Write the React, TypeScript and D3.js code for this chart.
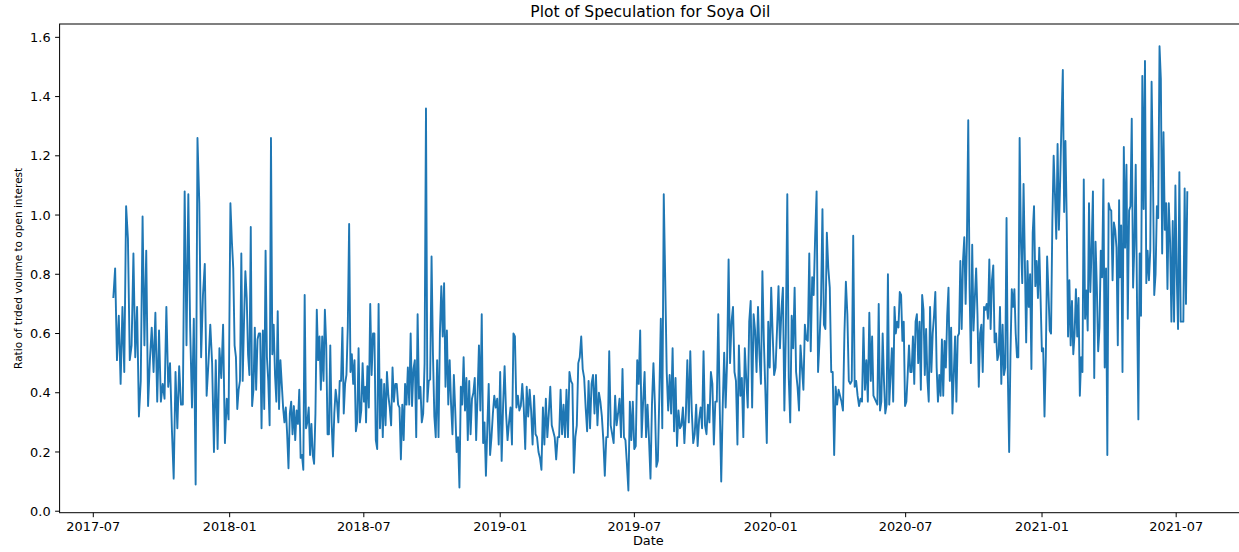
import React from 'react';
import * as d3 from 'd3';

const W = 1239;
const H = 552;

// Ratio of traded volume to open interest, grouped by period
const seg1 = [0.72, 0.82, 0.51, 0.66, 0.43, 0.69, 0.47, 1.03, 0.92, 0.51, 0.56, 0.87, 0.52, 0.69, 0.32, 0.44, 0.995, 0.56, 0.88, 0.355, 0.51, 0.62, 0.47, 0.67, 0.37, 0.61, 0.37, 0.43, 0.38, 0.69, 0.42, 0.50, 0.28, 0.11, 0.47, 0.28, 0.49, 0.36, 0.36, 1.08, 0.56, 1.07, 0.62, 0.35, 0.65, 0.09, 1.26, 1.04, 0.52, 0.73, 0.835, 0.39, 0.50, 0.63, 0.50, 0.20, 0.51, 0.21, 0.55, 0.45, 0.63, 0.23, 0.38, 0.31, 1.04];
const seg2 = [0.91, 0.82, 0.56, 0.52, 0.345, 0.41, 0.44, 0.87, 0.44, 0.64, 0.81, 0.72, 0.53, 0.46, 0.96, 0.355, 0.41, 0.62, 0.41, 0.58, 0.60, 0.60, 0.28, 0.61, 0.345, 0.88, 0.52, 0.44, 0.29, 1.26, 0.53, 0.63, 0.46, 0.37, 0.675, 0.345, 0.51, 0.43, 0.35, 0.30, 0.35, 0.26, 0.145, 0.33, 0.37, 0.26, 0.355, 0.24, 0.34, 0.295, 0.41, 0.18, 0.19, 0.14, 0.73, 0.28, 0.30, 0.35, 0.19, 0.295, 0.19, 0.16, 0.33, 0.68, 0.51, 0.59, 0.41, 0.59, 0.44, 0.68, 0.56, 0.26, 0.26, 0.56, 0.30, 0.185, 0.33, 0.41, 0.37, 0.30, 0.44, 0.44, 0.62, 0.33, 0.43, 0.46, 0.62, 0.97, 0.47, 0.53, 0.43, 0.51, 0.27, 0.30, 0.55, 0.30, 0.34, 0.50, 0.37, 0.42];
const seg3 = [0.30, 0.49, 0.35, 0.70, 0.46, 0.60, 0.60, 0.24, 0.21, 0.70, 0.28, 0.445, 0.25, 0.43, 0.29, 0.47, 0.39, 0.35, 0.29, 0.485, 0.37, 0.43, 0.43, 0.36, 0.35, 0.175, 0.36, 0.24, 0.43, 0.36, 0.485, 0.36, 0.60, 0.355, 0.48, 0.51, 0.25, 0.665, 0.38, 0.42, 0.30, 0.33, 0.50, 1.36, 0.37, 0.44, 0.445, 0.86, 0.53, 0.32, 0.25, 0.51, 0.25, 0.60, 0.76, 0.59, 0.77, 0.42, 0.61, 0.36, 0.51, 0.36, 0.26, 0.46, 0.34, 0.20, 0.25, 0.08, 0.42, 0.36, 0.52, 0.34, 0.45, 0.24, 0.44, 0.26, 0.38, 0.40, 0.45, 0.24, 0.39, 0.56, 0.34, 0.665, 0.23, 0.30, 0.12, 0.28, 0.43, 0.19, 0.25, 0.33, 0.39];
const seg4 = [0.35, 0.38, 0.225, 0.47, 0.17, 0.36, 0.49, 0.33, 0.24, 0.30, 0.35, 0.225, 0.60, 0.59, 0.35, 0.39, 0.34, 0.355, 0.43, 0.35, 0.21, 0.42, 0.32, 0.41, 0.34, 0.225, 0.39, 0.26, 0.25, 0.20, 0.18, 0.14, 0.35, 0.225, 0.38, 0.25, 0.33, 0.42, 0.29, 0.27, 0.25, 0.175, 0.25, 0.25, 0.41, 0.26, 0.36, 0.25, 0.41, 0.25, 0.47, 0.44, 0.43, 0.13, 0.25, 0.29, 0.50, 0.52, 0.59, 0.48, 0.45, 0.35, 0.27, 0.44, 0.28, 0.43, 0.46, 0.33, 0.46, 0.29, 0.40, 0.37, 0.32, 0.24, 0.12, 0.25, 0.25, 0.54, 0.29, 0.26, 0.23, 0.39, 0.29, 0.33, 0.38];
const seg5 = [0.25, 0.48, 0.25, 0.24, 0.16, 0.07, 0.37, 0.24, 0.37, 0.21, 0.22, 0.51, 0.43, 0.61, 0.25, 0.37, 0.47, 0.25, 0.36, 0.24, 0.11, 0.36, 0.50, 0.36, 0.15, 0.17, 0.39, 0.65, 0.28, 1.07, 0.78, 0.47, 0.34, 0.46, 0.33, 0.55, 0.27, 0.45, 0.22, 0.34, 0.28, 0.29, 0.35, 0.23, 0.33, 0.51, 0.30, 0.54, 0.34, 0.23, 0.26, 0.36, 0.22, 0.31, 0.35, 0.28, 0.54, 0.29, 0.26, 0.36, 0.30, 0.47, 0.43, 0.225, 0.37, 0.37, 0.665, 0.35, 0.10, 0.35, 0.535, 0.35, 0.51, 0.85, 0.50, 0.64, 0.69, 0.47, 0.44, 0.225, 0.56, 0.39, 0.45, 0.25, 0.55];
const seg6 = [0.445, 0.35, 0.64, 0.71, 0.35, 0.665, 0.61, 0.47, 0.69, 0.53, 0.43, 0.81, 0.575, 0.41, 0.23, 0.64, 0.485, 0.755, 0.60, 0.46, 0.485, 0.615, 0.76, 0.55, 0.68, 0.755, 0.34, 0.60, 1.07, 0.45, 0.30, 0.66, 0.55, 0.755, 0.47, 0.42, 0.34, 0.56, 0.485, 0.41, 0.63, 0.58, 0.575, 0.87, 0.54, 0.79, 0.73, 0.925, 1.08, 0.47, 0.575, 0.70, 1.02, 0.63, 0.615, 0.94, 0.82, 0.755, 0.47, 0.47, 0.19, 0.42, 0.36, 0.41, 0.39, 0.37, 0.34, 0.60, 0.775, 0.665, 0.44, 0.43, 0.44, 0.93, 0.42, 0.44, 0.39, 0.355, 0.38, 0.37, 0.62, 0.41, 0.51, 0.37, 0.67];
const seg7 = [0.44, 0.59, 0.39, 0.38, 0.37, 0.36, 0.70, 0.34, 0.37, 0.60, 0.44, 0.33, 0.36, 0.80, 0.36, 0.46, 0.55, 0.37, 0.69, 0.60, 0.64, 0.62, 0.74, 0.73, 0.575, 0.64, 0.355, 0.37, 0.46, 0.56, 0.47, 0.47, 0.59, 0.43, 0.64, 0.665, 0.50, 0.64, 0.41, 0.73, 0.68, 0.46, 0.615, 0.445, 0.37, 0.69, 0.47, 0.60, 0.66, 0.74, 0.485, 0.37, 0.46, 0.39, 0.58, 0.39, 0.575, 0.485, 0.66, 0.755, 0.44, 0.62, 0.33, 0.46, 0.59, 0.37, 0.59, 0.60, 0.845, 0.615, 0.845, 0.925, 0.70, 0.915, 1.32, 0.755, 0.50, 0.90, 0.61, 0.72, 0.82, 0.665, 0.42, 0.60, 0.63, 0.47, 0.69, 0.68, 0.70, 0.65, 0.85, 0.615, 0.78, 0.83, 0.57];
const seg8 = [0.60, 0.51, 0.53, 0.69, 0.43, 0.63, 0.46, 0.485, 0.99, 0.46, 0.20, 0.53, 0.75, 0.69, 0.75, 0.60, 0.52, 0.52, 1.26, 0.91, 0.77, 1.105, 0.845, 0.57, 0.845, 0.69, 0.80, 0.48, 0.94, 1.03, 0.76, 0.845, 0.72, 0.89, 0.72, 0.54, 0.55, 0.32, 0.52, 0.86, 0.74, 0.61, 0.60, 0.98, 1.20, 1.07, 0.92, 1.24, 0.95, 1.12, 1.32, 1.49, 1.01, 1.25, 0.98, 0.59, 0.78, 0.56, 0.71, 0.53, 0.60, 0.75, 0.59, 0.72, 0.39, 0.52, 0.47, 1.12, 0.65, 0.745, 0.61, 1.04, 0.74, 0.89, 1.08, 0.45, 0.91, 0.755, 0.54, 0.62, 0.88, 0.79, 1.12, 0.485, 0.82, 0.19, 1.04, 1.02, 1.015, 0.78, 0.975, 0.95, 0.89, 0.56, 1.05];
const seg9 = [0.79, 0.965, 0.47, 1.23, 0.89, 1.17, 0.65, 1.015, 1.03, 1.325, 0.755, 0.90, 1.17, 0.70, 0.31, 0.87, 0.66, 1.47, 1.02, 1.52, 0.77, 0.88, 0.78, 0.88, 1.45, 1.15, 0.73, 0.80, 1.03, 0.99, 1.57, 1.46, 0.87, 1.28, 0.95, 1.04, 0.75, 1.04, 0.91, 0.64, 0.98, 0.64, 1.10, 0.80, 0.615, 1.145, 0.64, 0.64, 0.64, 1.09, 0.70, 1.08];

const segmentValues = [seg1, seg2, seg3, seg4, seg5, seg6, seg7, seg8, seg9];
const segmentStarts = ['2017-07-28', '2018-01-04', '2018-07-04', '2018-12-26', '2019-06-13', '2019-11-29', '2020-05-15', '2020-10-31', '2021-04-16'];
const segmentEnds = ['2018-01-02', '2018-07-03', '2018-12-24', '2019-06-11', '2019-11-27', '2020-05-13', '2020-10-29', '2021-04-15', '2021-07-16'];

const xTickDates = ['2017-07-01', '2018-01-01', '2018-07-01', '2019-01-01', '2019-07-01', '2020-01-01', '2020-07-01', '2021-01-01', '2021-07-01'];
const yTicks = [0.0, 0.2, 0.4, 0.6, 0.8, 1.0, 1.2, 1.4, 1.6];

const TITLE = 'Plot of Speculation for Soya Oil';
const X_LABEL = 'Date';
const Y_LABEL = 'Ratio of trded volume to open interest';

const FONT = "'DejaVu Sans', sans-serif";

type Pt = { date: Date; value: number };

const parse = d3.timeParse('%Y-%m-%d');

function buildData(): Pt[] {
  const out: Pt[] = [];
  segmentValues.forEach((vals, s) => {
    const t0 = (parse(segmentStarts[s]) as Date).getTime();
    const t1 = (parse(segmentEnds[s]) as Date).getTime();
    const n = vals.length;
    vals.forEach((v, i) => {
      const t = n > 1 ? t0 + ((t1 - t0) * i) / (n - 1) : t0;
      out.push({ date: new Date(t), value: v });
    });
  });
  return out;
}

export default function App() {
  const data = buildData();

  const left = 59.6;
  const right = 1241;
  const top = 24;
  const bottom = 512.7;

  const [dMin, dMax] = d3.extent(data, (d) => d.date) as [Date, Date];
  const span = dMax.getTime() - dMin.getTime();
  const x = d3
    .scaleTime()
    .domain([new Date(dMin.getTime() - span * 0.05), new Date(dMax.getTime() + span * 0.05)])
    .range([left, right]);

  const [vMin, vMax] = d3.extent(data, (d) => d.value) as [number, number];
  const vSpan = vMax - vMin;
  const y = d3
    .scaleLinear()
    .domain([vMin - vSpan * 0.05, vMax + vSpan * 0.05])
    .range([bottom, top]);

  const line = d3
    .line<Pt>()
    .x((d) => x(d.date))
    .y((d) => y(d.value));

  const tickLen = 4.5;
  const fmtX = d3.timeFormat('%Y-%m');
  const fmtY = d3.format('.1f');

  return (
    <svg
      width={W}
      height={H}
      style={{ position: 'absolute', left: 0, top: 0, display: 'block', background: '#fff' }}
      fontFamily={FONT}
    >
      <rect x={0} y={0} width={W} height={H} fill="#fff" />
      <defs>
        <clipPath id="plotclip">
          <rect x={left} y={top} width={right - left} height={bottom - top} />
        </clipPath>
      </defs>
      <path
        d={line(data) || ''}
        fill="none"
        stroke="#1f77b4"
        strokeWidth={1.9}
        strokeLinejoin="round"
        clipPath="url(#plotclip)"
      />
      {/* spines */}
      <rect x={left} y={top} width={right - left} height={bottom - top} fill="none" stroke="#000" strokeWidth={1} />
      {/* x ticks */}
      {xTickDates.map((s) => {
        const d = parse(s) as Date;
        const px = x(d);
        return (
          <g key={s}>
            <line x1={px} x2={px} y1={bottom} y2={bottom + tickLen} stroke="#000" strokeWidth={1} />
            <text x={px} y={530.5} textAnchor="middle" fontSize={12.9} fill="#000">
              {fmtX(d)}
            </text>
          </g>
        );
      })}
      {/* y ticks */}
      {yTicks.map((t) => {
        const py = y(t);
        return (
          <g key={t}>
            <line x1={left - tickLen} x2={left} y1={py} y2={py} stroke="#000" strokeWidth={1} />
            <text x={left - tickLen - 4.5} y={py} dy="0.36em" textAnchor="end" fontSize={12.9} fill="#000">
              {fmtY(t)}
            </text>
          </g>
        );
      })}
      <text x={(left + right) / 2} y={16.5} textAnchor="middle" fontSize={15.5} fill="#000">
        {TITLE}
      </text>
      <text x={(left + 1237) / 2} y={545} textAnchor="middle" fontSize={12.9} fill="#000">
        {X_LABEL}
      </text>
      <text
        transform={`translate(21.5, ${(top + bottom) / 2}) rotate(-90)`}
        textAnchor="middle"
        fontSize={10.5}
        fill="#000"
      >
        {Y_LABEL}
      </text>
    </svg>
  );
}
